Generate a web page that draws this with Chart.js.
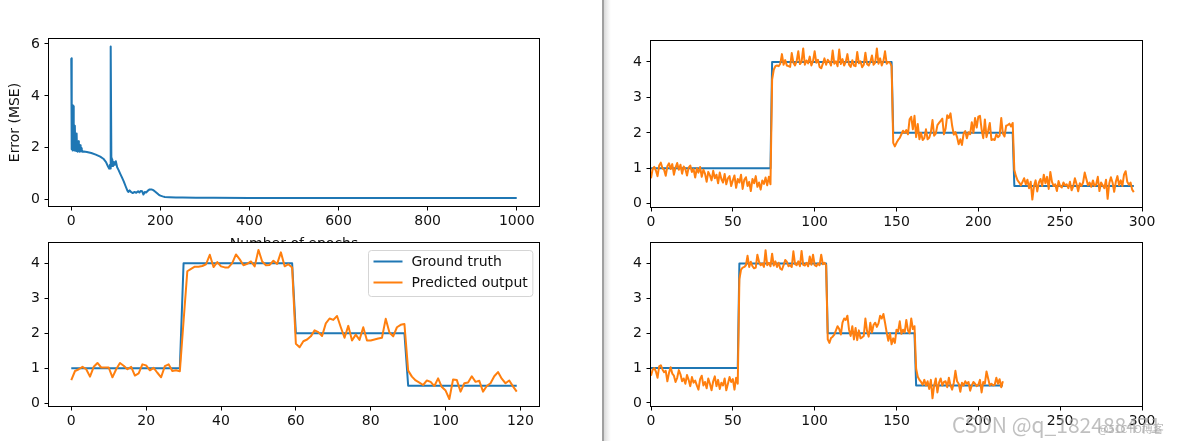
<!DOCTYPE html>
<html>
<head>
<meta charset="utf-8">
<script src="https://cdn.jsdelivr.net/npm/chart.js@4.4.0/dist/chart.umd.min.js"></script>
<style>
  html, body { margin: 0; padding: 0; background: #fff; }
  body { width: 1184px; height: 441px; position: relative; overflow: hidden; }
  .box { position: absolute; }
  .box canvas { display: block; }
  #sep { position: absolute; left: 602px; top: 0; width: 9px; height: 441px;
    background: linear-gradient(to right, #a0a0a0 0px, #a0a0a0 1.5px, #d9d9d9 2px, #ececec 5px, #fbfbfb 8px, #fff 9px); }
  .wm { position: absolute; white-space: nowrap; pointer-events: none; line-height: 1; }
</style>
</head>
<body>
<div class="box" style="left:0;top:0"><canvas id="errChart" width="560" height="253"></canvas></div>
<div class="box" style="left:0;top:230px"><canvas id="testChart" width="560" height="211"></canvas></div>
<div id="sep"></div>
<div class="box" style="left:610px;top:0"><canvas id="trainChart" width="574" height="230"></canvas></div>
<div class="box" style="left:610px;top:230px"><canvas id="validChart" width="574" height="211"></canvas></div>
<div class="wm" style="left:952px;top:409px;font:21px 'Noto Sans CJK SC', sans-serif;color:rgba(165,165,165,0.7)">CSDN @q_182488471</div>
<div class="wm" style="left:1098px;top:420px;font:11px 'Noto Sans CJK SC', sans-serif;color:rgba(165,165,165,0.75)">@51CTO博客</div>
<script>
// training error curve (top left)
const errEpochs = [0, 1, 2, 3, 4, 5, 6, 7, 8, 9, 10, 11, 12, 13, 14, 15, 16, 17, 18, 19, 20, 21, 22, 23, 24, 25,
    28, 35, 45, 55, 65, 72, 78, 82, 85, 87, 88, 89, 90, 91, 92, 94, 96, 98, 100, 103, 106, 110, 114, 118,
    122, 126, 128, 131, 134, 138, 142, 146, 150, 153, 156, 159, 162, 165, 168, 172, 176, 180, 184, 188,
    192, 196, 200, 205, 210, 220, 235, 250, 280, 320, 400, 500, 600, 700, 800, 900, 1000];
const errValues = [5.45, 1.95, 3.65, 1.9, 3.6, 2.0, 2.9, 1.9, 2.85, 1.95, 2.5, 1.88, 2.55, 1.9, 2.2, 1.85, 2.25, 1.9, 2.05, 1.85, 2.1, 1.87, 1.98, 1.86, 1.92, 1.85,
    1.86, 1.84, 1.8, 1.74, 1.66, 1.58, 1.45, 1.3, 1.2, 1.35, 1.2, 5.9, 1.6, 1.3, 1.55, 1.3, 1.45, 1.35, 1.48, 1.25, 1.15, 1.0, 0.85, 0.7,
    0.52, 0.35, 0.3, 0.36, 0.3, 0.26, 0.3, 0.27, 0.33, 0.28, 0.34, 0.33, 0.2, 0.3, 0.28, 0.35, 0.4, 0.4, 0.37, 0.32,
    0.26, 0.2, 0.16, 0.13, 0.11, 0.1, 0.09, 0.085, 0.08, 0.075, 0.07, 0.07, 0.068, 0.068, 0.067, 0.066, 0.066];
const errXTicks = [0, 200, 400, 600, 800, 1000];
const errYTicks = [0, 2, 4, 6];

// test set (bottom left)
const testTruthX = [0, 29, 30, 59, 60, 89, 90, 119];
const testTruthY = [1, 1, 4, 4, 2, 2, 0.5, 0.5];
const testPred = [0.66, 0.92, 0.97, 1.04, 0.97, 0.76, 1.04, 1.15, 1.02, 1.02,
    1.02, 0.74, 0.97, 1.15, 1.07, 0.97, 1.04, 0.79, 0.85, 1.11,
    1.08, 0.94, 1.01, 0.87, 0.74, 1.06, 1.11, 0.92, 0.94, 0.91,
    2.35, 3.77, 3.84, 3.9, 3.9, 3.92, 3.97, 4.24, 3.89, 4.03,
    3.91, 3.88, 3.88, 4.0, 4.25, 4.11, 3.94, 3.98, 4.05, 3.91,
    4.38, 4.05, 3.94, 3.95, 4.07, 3.98, 4.31, 3.91, 3.97, 3.88,
    1.7, 1.6, 1.77, 1.82, 1.91, 2.08, 2.03, 1.92, 2.28, 2.42,
    2.38, 2.49, 2.17, 1.87, 2.21, 1.79, 1.96, 1.81, 2.17, 1.79,
    1.79, 1.82, 1.85, 1.87, 2.41, 2.02, 1.91, 2.17, 2.24, 2.26,
    0.93, 0.76, 0.65, 0.59, 0.52, 0.65, 0.61, 0.49, 0.71, 0.46,
    0.36, 0.12, 0.68, 0.66, 0.33, 0.57, 0.59, 0.77, 0.61, 0.64,
    0.33, 0.49, 0.57, 0.77, 0.89, 0.7, 0.57, 0.65, 0.48, 0.33];
const testXTicks = [0, 20, 40, 60, 80, 100, 120];

// training set (top right)
const trainTruthX = [0, 73, 74, 147, 148, 221, 222, 295];
const trainTruthY = [1, 1, 4, 4, 2, 2, 0.5, 0.5];
const trainPred = [0.72, 0.98, 1.04, 0.94, 0.78, 1.08, 1.16, 1.0, 0.96, 0.79,
    1.06, 1.14, 0.98, 1.12, 0.82, 1.02, 1.15, 0.96, 1.1, 0.85,
    1.05, 0.98, 0.8, 1.02, 1.08, 0.9, 0.98, 0.74, 1.0, 0.88,
    1.04, 0.76, 0.96, 0.85, 0.62, 0.9, 0.8, 0.66, 0.93, 0.72,
    0.82, 0.58, 0.88, 0.7, 0.6, 0.84, 0.55, 0.72, 0.78, 0.5,
    0.66, 0.8, 0.45, 0.7, 0.6, 0.82, 0.42, 0.68, 0.75, 0.5,
    0.62, 0.36, 0.7, 0.58, 0.78, 0.48, 0.6, 0.4, 0.66, 0.56,
    0.74, 0.52, 0.76, 0.55,
    3.5, 3.78, 3.88, 3.9, 3.88, 3.95, 4.22, 3.92, 4.05, 3.9,
    3.88, 3.86, 4.25, 3.98, 3.9, 4.02, 4.3, 3.94, 4.0, 4.38,
    3.92, 4.04, 3.96, 4.15, 3.9, 4.02, 4.3, 3.98, 4.06, 3.86,
    3.82, 3.95, 4.1, 3.92, 4.06, 4.0, 3.9, 4.32, 3.95, 4.02,
    3.88, 4.35, 3.94, 4.08, 3.9, 4.0, 4.22, 3.92, 3.86, 4.05,
    3.9, 3.88, 4.28, 3.96, 4.02, 3.85, 3.92, 4.26, 3.94, 3.9,
    4.0, 4.18, 3.92, 3.98, 4.38, 3.95, 4.1, 3.9, 4.02, 4.3,
    3.95, 4.0, 3.98, 3.88,
    1.72, 1.62, 1.72, 1.8, 1.86, 1.96, 2.06, 2.0, 2.08, 1.96,
    2.38, 2.45, 2.1, 2.48, 1.88, 2.25, 1.82, 2.0, 1.8, 1.85,
    2.1, 1.82, 1.86, 2.02, 2.36, 1.92, 1.98, 2.22, 2.28, 2.34,
    2.4, 1.96, 2.12, 2.5, 2.42, 2.55, 2.2, 1.95, 2.02, 1.88,
    1.68, 1.82, 1.66, 1.98, 2.05, 1.85, 2.02, 1.96, 2.3, 2.0,
    2.42, 2.15, 2.46, 2.48, 2.1, 1.85, 2.38, 1.88, 2.06, 2.28,
    1.8, 1.82, 1.8, 1.96, 1.88, 1.92, 2.42, 1.98, 1.9, 2.2,
    2.22, 2.26, 2.18, 2.28,
    0.95, 0.78, 0.66, 0.6, 0.52, 0.62, 0.72, 0.55, 0.68, 0.44,
    0.62, 0.12, 0.5, 0.66, 0.35, 0.6, 0.7, 0.5, 0.82, 0.58,
    0.76, 0.42, 0.9, 0.62, 0.5, 0.55, 0.36, 0.64, 0.5, 0.46,
    0.6, 0.52, 0.55, 0.44, 0.62, 0.38, 0.5, 0.72, 0.56, 0.35,
    0.58, 0.5, 0.6, 0.88, 0.7, 0.52, 0.6, 0.48, 0.66, 0.5,
    0.55, 0.76, 0.36, 0.6, 0.52, 0.44, 0.68, 0.14, 0.58, 0.75,
    0.6, 0.34, 0.62, 0.78, 0.52, 0.66, 0.5, 0.82, 0.92, 0.62,
    0.54, 0.6, 0.4, 0.33];

// validation set (bottom right)
const validTruthX = [0, 53, 54, 107, 108, 161, 162, 215];
const validTruthY = [1, 1, 4, 4, 2, 2, 0.5, 0.5];
const validPred = [0.78, 0.95, 1.0, 0.9, 0.72, 1.05, 1.08, 0.96, 0.88, 0.92,
    0.62, 0.86, 1.02, 0.84, 0.78, 0.6, 0.72, 0.94, 0.82, 0.62,
    0.7, 0.55, 0.8, 0.66, 0.48, 0.74, 0.58, 0.64, 0.5, 0.38,
    0.68, 0.78, 0.5, 0.6, 0.42, 0.7, 0.55, 0.36, 0.62, 0.76,
    0.48, 0.66, 0.4, 0.58, 0.5, 0.7, 0.36, 0.55, 0.74, 0.6,
    0.68, 0.38, 0.72, 0.55,
    3.55, 3.82, 3.88, 3.9, 3.95, 4.22, 3.9, 4.05, 3.92, 3.86,
    3.88, 4.25, 4.05, 3.95, 4.0, 3.9, 4.38, 3.95, 4.02, 3.92,
    4.28, 3.94, 4.06, 3.9, 4.02, 3.85, 3.82, 3.95, 4.1, 4.05,
    3.92, 3.95, 3.9, 4.35, 3.98, 3.95, 4.06, 3.92, 4.36, 3.96,
    3.94, 4.02, 3.92, 4.2, 3.96, 4.25, 3.95, 3.92, 4.0, 3.95,
    4.25, 3.98, 4.02, 3.95,
    1.82, 1.72, 1.86, 1.9, 1.96, 2.08, 2.2, 2.12, 1.96, 2.3,
    2.42, 2.38, 2.5, 2.1, 1.92, 2.2, 1.82, 2.15, 1.8, 2.08,
    1.85, 1.88, 1.92, 2.42, 2.06, 1.9, 2.3, 2.02, 2.24, 2.3,
    2.18, 2.28, 2.5, 2.42, 2.55, 2.3, 2.02, 1.78, 2.0, 1.68,
    1.85, 1.72, 2.1, 2.05, 2.34, 1.98, 2.1, 2.02, 2.38, 2.08,
    2.0, 2.42, 2.12, 2.2,
    0.98, 0.75, 0.66, 0.6, 0.52, 0.66, 0.5, 0.62, 0.4, 0.66,
    0.13, 0.5, 0.7, 0.3, 0.58, 0.7, 0.5, 0.6, 0.62, 0.45,
    0.72, 0.5, 0.38, 0.58, 0.92, 0.62, 0.55, 0.32, 0.58, 0.5,
    0.62, 0.55, 0.6, 0.35, 0.5, 0.6, 0.55, 0.48, 0.52, 0.66,
    0.3, 0.6, 0.55, 0.9, 0.7, 0.5, 0.55, 0.5, 0.52, 0.72,
    0.55, 0.68, 0.45, 0.62];
const sideXTicks = [0, 50, 100, 150, 200, 250, 300];
const levelTicks = [0, 1, 2, 3, 4];

const seriesLabels = ['Ground truth', 'Predicted output'];
const BLUE = '#1f77b4';
const ORANGE = '#ff7f0e';
const FONT = 'DejaVu Sans';
const FSIZE = 14;

// white axes background + black frame, like matplotlib
const framePlugin = {
    id: 'frame',
    beforeDraw(chart) {
        const a = chart.chartArea;
        const ctx = chart.ctx;
        ctx.save();
        ctx.fillStyle = '#fff';
        ctx.fillRect(a.left, a.top, a.right - a.left, a.bottom - a.top);
        ctx.restore();
    },
    afterDraw(chart) {
        const a = chart.chartArea;
        const ctx = chart.ctx;
        ctx.save();
        ctx.strokeStyle = '#000';
        ctx.lineWidth = 1;
        ctx.strokeRect(Math.round(a.left) - 0.5, Math.round(a.top) - 0.5, Math.round(a.right - a.left) + 1, Math.round(a.bottom - a.top) + 1);
        ctx.restore();
    }
};

// matplotlib style legend inside the axes, upper right
const legendPlugin = {
    id: 'mplLegend',
    afterDraw(chart, args, opts) {
        if (!opts.show) return;
        const a = chart.chartArea;
        const ctx = chart.ctx;
        const sets = chart.data.datasets;
        ctx.save();
        ctx.font = FSIZE + 'px "' + FONT + '"';
        let tw = 0;
        sets.forEach(d => { tw = Math.max(tw, ctx.measureText(d.label).width); });
        const w = 43 + tw + 5;
        const h = 46;
        const x = Math.round(a.right - 7 - w) + 0.5;
        const y = Math.round(a.top + 7) + 0.5;
        ctx.beginPath();
        ctx.roundRect(x, y, w, h, 3);
        ctx.fillStyle = 'rgba(255,255,255,0.85)';
        ctx.fill();
        ctx.strokeStyle = '#d5d5d5';
        ctx.lineWidth = 1;
        ctx.stroke();
        sets.forEach((d, i) => {
            const ly = y + 11 + i * 21;
            ctx.strokeStyle = d.borderColor;
            ctx.lineWidth = 2;
            ctx.beginPath();
            ctx.moveTo(x + 5, ly);
            ctx.lineTo(x + 34, ly);
            ctx.stroke();
            ctx.fillStyle = '#111';
            ctx.textBaseline = 'middle';
            ctx.textAlign = 'left';
            ctx.fillText(d.label, x + 43, ly + 0.5);
        });
        ctx.restore();
    }
};

const makeAxis = (min, max, tickVals, fixedSize, pad, title) => ({
    type: 'linear',
    min: min,
    max: max,
    bounds: 'data',
    afterBuildTicks: s => { s.ticks = tickVals.map(v => ({ value: v })); },
    afterFit: s => {
        if (s.isHorizontal()) s.height = fixedSize;
        else s.width = fixedSize;
    },
    grid: { display: true, drawOnChartArea: false, drawTicks: true, tickLength: 4.5, color: '#000', lineWidth: 1 },
    border: { display: false },
    ticks: {
        color: '#111',
        font: { family: FONT, size: FSIZE },
        padding: pad,
        autoSkip: false,
        maxRotation: 0,
        minRotation: 0,
        callback: v => String(v)
    },
    title: title ? {
        display: true,
        text: title.text,
        color: '#111',
        font: { family: FONT, size: FSIZE },
        padding: title.padding
    } : { display: false }
});

const lineSet = (label, xs, ys, color, order) => ({
    label: label,
    data: ys.map((v, i) => ({ x: xs ? xs[i] : i, y: v })),
    borderColor: color,
    backgroundColor: color,
    borderWidth: 2,
    pointRadius: 0,
    tension: 0,
    fill: false,
    borderJoinStyle: 'round',
    order: order
});

const baseOptions = (pad, scales, legend) => ({
    responsive: false,
    animation: false,
    devicePixelRatio: 1,
    layout: { padding: pad },
    plugins: {
        legend: { display: false },
        tooltip: { enabled: false },
        mplLegend: { show: legend }
    },
    scales: scales
});

const renderErrorChart = () => {
    new Chart('errChart', {
        type: 'line',
        data: { datasets: [lineSet('Error', errEpochs, errValues, BLUE, 0)] },
        options: baseOptions({ top: 39, right: 21, left: 0, bottom: 0 }, {
            x: makeAxis(-50, 1050, errXTicks, 47, 2.4, { text: 'Number of epochs', padding: { top: 0, bottom: 0.6 } }),
            y: makeAxis(-0.24, 6.19, errYTicks, 49, 4.5, { text: 'Error (MSE)', padding: { top: 7, bottom: 0 } })
        }, false),
        plugins: [framePlugin, legendPlugin]
    });
};

const renderStepChart = (id, truthX, truthY, pred, xMin, xMax, xTicks, yMin, yMax, pad, yWidth, xHeight, legend) => {
    new Chart(id, {
        type: 'line',
        data: {
            datasets: [
                lineSet(seriesLabels[0], truthX, truthY, BLUE, 1),
                lineSet(seriesLabels[1], null, pred, ORANGE, 0)
            ]
        },
        options: baseOptions(pad, {
            x: makeAxis(xMin, xMax, xTicks, xHeight, 2.4),
            y: makeAxis(yMin, yMax, levelTicks, yWidth, 4.5)
        }, legend),
        plugins: [framePlugin, legendPlugin]
    });
};

renderErrorChart();
renderStepChart('testChart', testTruthX, testTruthY, testPred, -5.95, 124.95, testXTicks, -0.08, 4.58,
    { top: 9, right: 21, left: 0, bottom: 0 }, 49, 35, true);
renderStepChart('trainChart', trainTruthX, trainTruthY, trainPred, 0, 300, sideXTicks, -0.09, 4.59,
    { top: 41, right: 42, left: 0, bottom: 0 }, 41, 23, false);
renderStepChart('validChart', validTruthX, validTruthY, validPred, 0, 300, sideXTicks, -0.09, 4.59,
    { top: 9, right: 42, left: 0, bottom: 0 }, 41, 35, false);
</script>
</body>
</html>
